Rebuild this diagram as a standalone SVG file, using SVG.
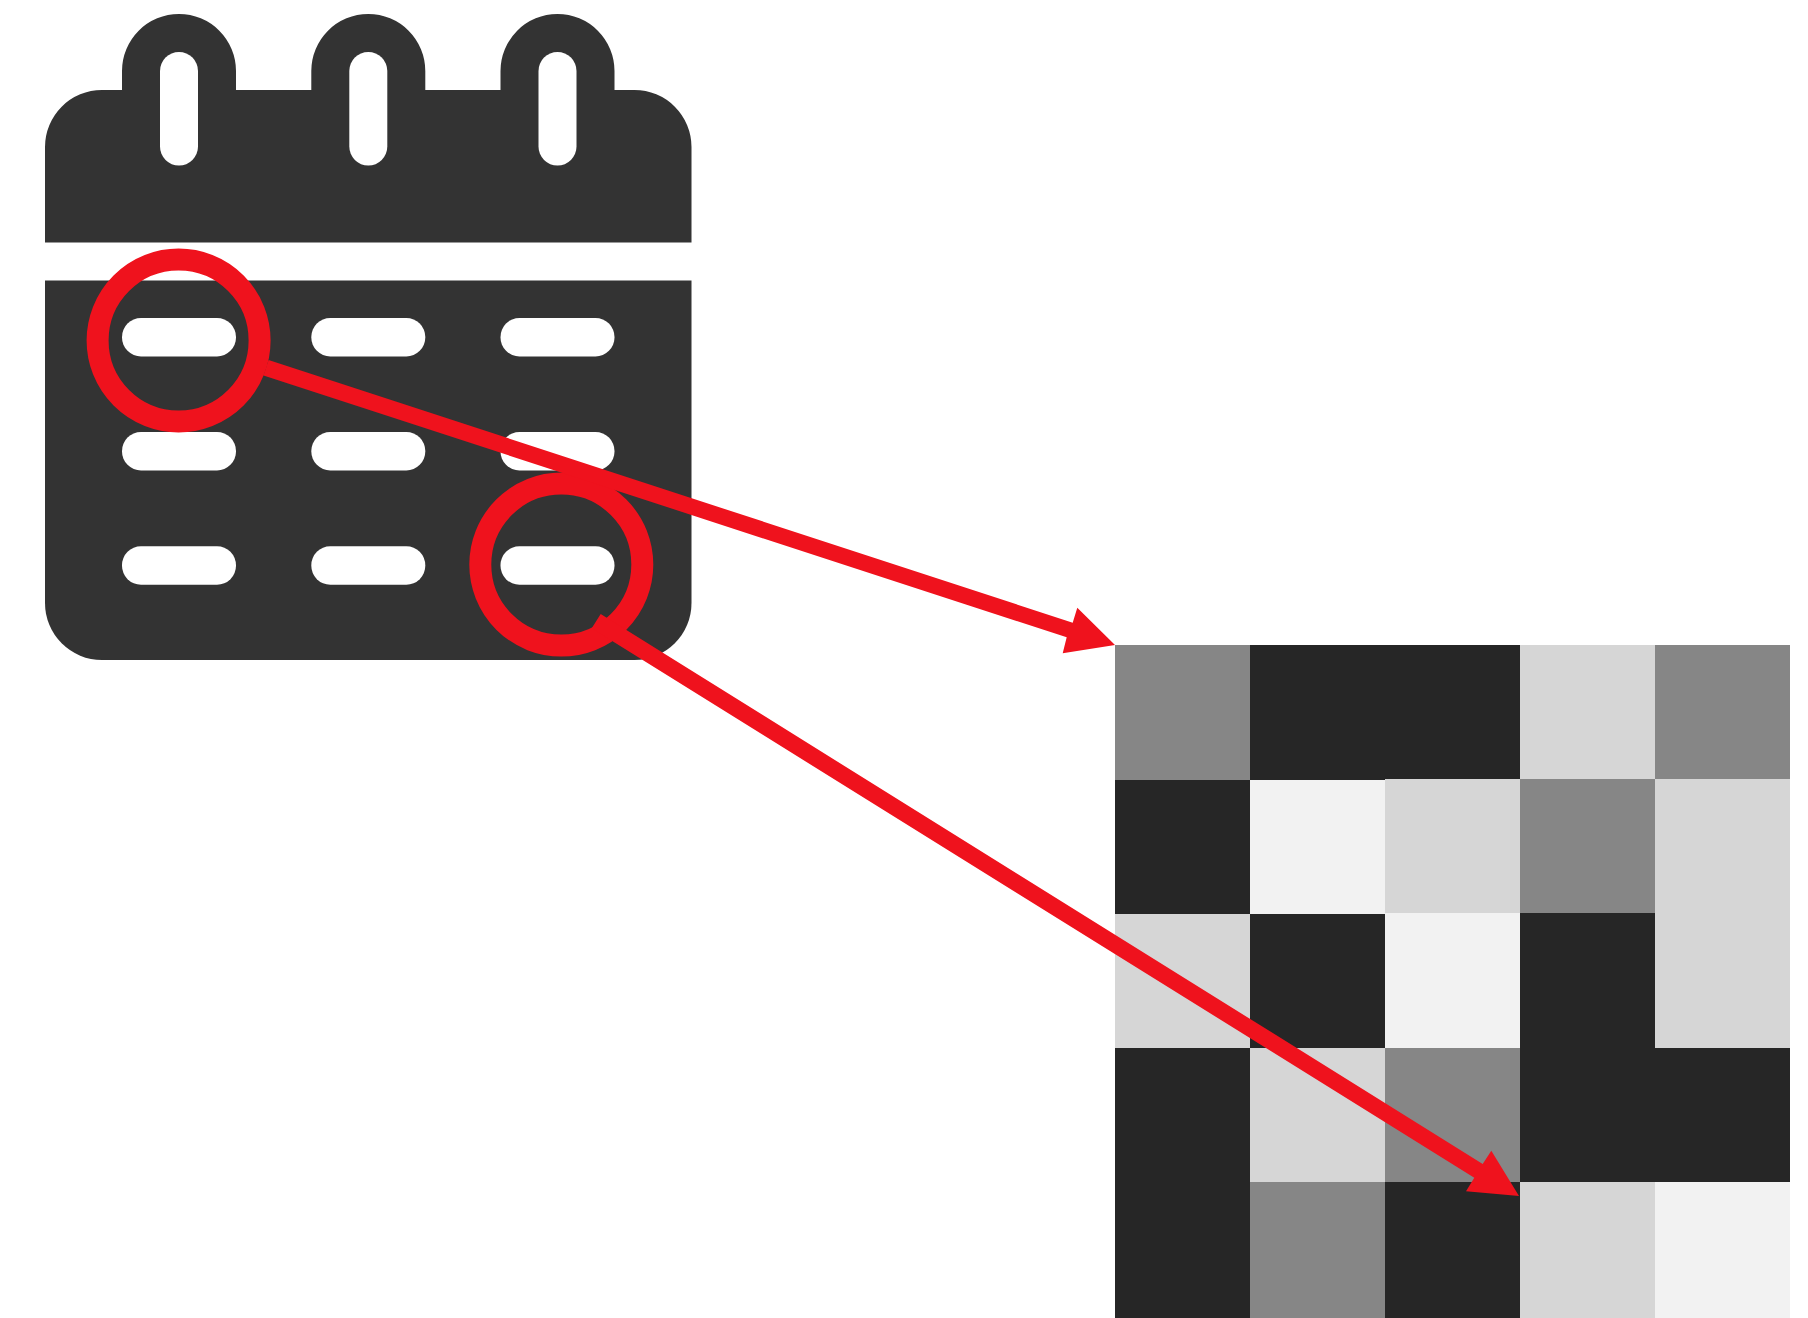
<svg xmlns="http://www.w3.org/2000/svg" width="1808" height="1318" viewBox="0 0 1808 1318">
<style>
.cal{fill:#333333}
.w{fill:#ffffff}
.ring{fill:none;stroke:#ef121d;stroke-width:22}
.arrow{fill:#ef121d}
.d{fill:#262626}.g{fill:#868686}.l{fill:#d6d6d6}.x{fill:#f2f2f2}
</style>
<defs>
<rect id="hole" class="w" width="38" height="113.6" rx="19" ry="19"/>
<rect id="slot" class="w" width="114" height="38.4" rx="19" ry="19"/>
</defs>
<rect width="1808" height="1318" fill="#ffffff"/>
<g id="calendar">
<path class="cal" d="M45 242.4V147A57 57 0 0 1 102 90H122V71A57 57 0 0 1 236 71V90H311.3V71A57 57 0 0 1 425.3 71V90H500.5V71A57 57 0 0 1 614.5 71V90H634.5A57 57 0 0 1 691.5 147V242.4Z"/>
<path class="cal" d="M45 280.6H691.5V603A57 57 0 0 1 634.5 660H102A57 57 0 0 1 45 603Z"/>
<use href="#hole" x="160" y="52"/><use href="#hole" x="349.3" y="52"/><use href="#hole" x="538.5" y="52"/>
<use href="#slot" x="122" y="318"/><use href="#slot" x="311.3" y="318"/><use href="#slot" x="500.5" y="318"/>
<use href="#slot" x="122" y="432"/><use href="#slot" x="311.3" y="432"/><use href="#slot" x="500.5" y="432"/>
<use href="#slot" x="122" y="546.3"/><use href="#slot" x="311.3" y="546.3"/><use href="#slot" x="500.5" y="546.3"/>
</g>
<g id="grid">
<rect class="g" x="1115" y="645" width="135" height="135"/>
<rect class="d" x="1250" y="645" width="270" height="135"/>
<rect class="l" x="1520" y="645" width="135" height="134"/>
<rect class="g" x="1655" y="645" width="135" height="134"/>
<rect class="d" x="1115" y="780" width="135" height="134"/>
<rect class="x" x="1250" y="780" width="135" height="134"/>
<rect class="l" x="1385" y="779" width="135" height="134"/>
<rect class="g" x="1520" y="779" width="135" height="134"/>
<rect class="l" x="1655" y="779" width="135" height="269"/>
<rect class="l" x="1115" y="914" width="135" height="134"/>
<rect class="d" x="1250" y="914" width="135" height="134"/>
<rect class="x" x="1385" y="913" width="135" height="135"/>
<rect class="d" x="1520" y="913" width="135" height="269"/>
<rect class="d" x="1115" y="1048" width="135" height="270"/>
<rect class="l" x="1250" y="1048" width="135" height="134"/>
<rect class="g" x="1385" y="1048" width="135" height="134"/>
<rect class="d" x="1655" y="1048" width="135" height="134"/>
<rect class="g" x="1250" y="1182" width="135" height="136"/>
<rect class="d" x="1385" y="1182" width="135" height="136"/>
<rect class="l" x="1520" y="1182" width="135" height="136"/>
<rect class="x" x="1655" y="1182" width="135" height="136"/>
</g>
<g id="highlight-1"><circle class="ring" cx="178.6" cy="340.5" r="81"/></g>
<g id="highlight-2"><circle class="ring" cx="561.3" cy="564.6" r="81"/></g>
<g id="connectors">
<polygon class="arrow" points="268.6,360 1072.7,622.7 1077.3,607.7 1115,645 1062.7,653.3 1066.7,637.3 263.5,375.5"/>
<polygon class="arrow" points="600.7,614 1482.7,1164 1491.3,1150.7 1519,1196 1466,1191.3 1474.3,1177.7 591.7,628.3"/>
</g>
</svg>
